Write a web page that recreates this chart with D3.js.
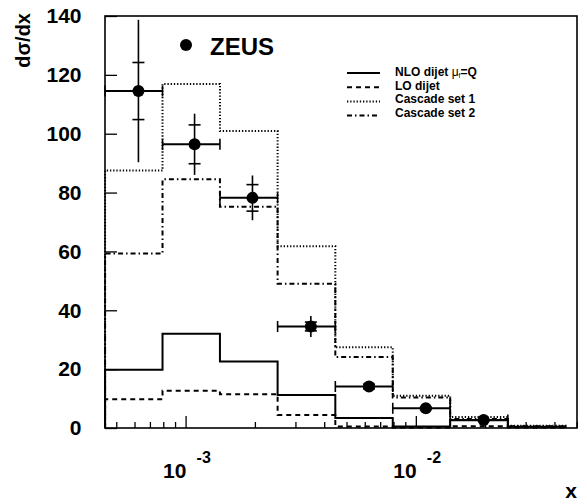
<!DOCTYPE html>
<html>
<head>
<meta charset="utf-8">
<script src="https://cdn.jsdelivr.net/npm/d3@7"></script>
<style>
  html, body { margin: 0; padding: 0; background: #fff; }
  svg { display: block; }
  text { font-family: "Liberation Sans", Arial, Helvetica, sans-serif; font-weight: bold; fill: #000; }
</style>
</head>
<body>
<svg id="chart" width="587" height="504"></svg>
<script>
// ---- data ----
const binEdges = [4.47e-4, 7.94e-4, 1.41e-3, 2.51e-3, 4.47e-3, 7.94e-3, 1.41e-2, 2.51e-2, 4.47e-2];
const nloDijet = [19.8, 32.0, 22.6, 11.2, 3.4, 0.5, 2.6, 0.4];
const loDijet  = [9.8, 12.7, 11.5, 4.4, 0.5, 0.2, 0.6, 0.2];
const cascade1 = [87.5, 116.9, 100.9, 61.8, 27.4, 11.0, 3.7, 0.8];
const cascade2 = [59.3, 84.5, 75.2, 49.0, 24.1, 10.4, 3.1, 0.6];
const zeusX    = [6.24e-4, 1.094e-3, 1.952e-3, 3.50e-3, 6.26e-3, 1.105e-2, 1.97e-2];
const zeusY    = [114.5, 96.4, 78.2, 34.5, 14.1, 6.7, 2.7];
const zeusStat = [9.7, 6.6, 4.5, 1.5, 0.8, 0.4, 0.2];
const zeusTot  = [24.2, 10.4, 7.6, 3.6, 1.5, 0.8, 0.4];
const yTicks   = [0, 20, 40, 60, 80, 100, 120, 140];
const xMajor   = [1e-3, 1e-2];
const xMajorExp = ["-3", "-2"];
const legendLabels = ["NLO dijet μ", "LO dijet", "Cascade set 1", "Cascade set 2"];

// ---- scales ----
const svg = d3.select("#chart");
const L = 105, R = 577, T = 16, B = 428;
const x = d3.scaleLog().domain([Math.pow(10, -3.35), Math.pow(10, -1.3)]).range([L, R]);
const y = d3.scaleLinear().domain([0, 140]).range([B, T]);

// ---- histograms ----
function histPath(vals) {
  const pts = [[x(binEdges[0]), y(0)]];
  vals.forEach((v, i) => {
    pts.push([x(binEdges[i]), y(v)]);
    pts.push([x(binEdges[i + 1]), y(v)]);
  });
  pts.push([x(binEdges[binEdges.length - 1]), y(0)]);
  return d3.line()(pts);
}
const styles = [
  { vals: nloDijet, dash: null, w: 2 },
  { vals: loDijet, dash: "5,4", w: 2 },
  { vals: cascade1, dash: "1.3,1.9", w: 2 },
  { vals: cascade2, dash: "5,3,1.5,3", w: 2 }
];
styles.forEach(s => {
  svg.append("path").attr("d", histPath(s.vals))
    .attr("fill", "none").attr("stroke", "#000")
    .attr("stroke-width", s.w)
    .attr("stroke-dasharray", s.dash);
});

// ---- ZEUS data points ----
const g = svg.append("g");
zeusX.forEach((xv, i) => {
  const cx = x(xv), cy = y(zeusY[i]);
  const x0 = x(binEdges[i]), x1 = x(binEdges[i + 1]);
  g.append("line").attr("x1", x0).attr("x2", x1).attr("y1", cy).attr("y2", cy)
    .attr("stroke", "#000").attr("stroke-width", 2);
  [x0, x1].forEach(xx => g.append("line").attr("x1", xx).attr("x2", xx)
    .attr("y1", cy - 5.5).attr("y2", cy + 5.5).attr("stroke", "#000").attr("stroke-width", 1.6));
  g.append("line").attr("x1", cx).attr("x2", cx)
    .attr("y1", y(zeusY[i] + zeusTot[i])).attr("y2", y(zeusY[i] - zeusTot[i]))
    .attr("stroke", "#000").attr("stroke-width", 1.6);
  [zeusY[i] + zeusStat[i], zeusY[i] - zeusStat[i]].forEach(v =>
    g.append("line").attr("x1", cx - 6).attr("x2", cx + 6).attr("y1", y(v)).attr("y2", y(v))
      .attr("stroke", "#000").attr("stroke-width", 1.6));
  g.append("circle").attr("cx", cx).attr("cy", cy).attr("r", 6).attr("fill", "#000");
});

// ---- frame ----
svg.append("rect").attr("x", L).attr("y", T).attr("width", R - L).attr("height", B - T)
  .attr("fill", "none").attr("stroke", "#000").attr("stroke-width", 1.6);

// ---- y axis ----
const yAxis = d3.axisLeft(y).tickValues(yTicks).tickSize(-12).tickPadding(24);
const ya = svg.append("g").attr("transform", `translate(${L},0)`).call(yAxis);
ya.select(".domain").remove();
ya.selectAll(".tick line").attr("stroke", "#000").attr("stroke-width", 1.3);
ya.selectAll(".tick text").attr("font-size", 21).attr("font-weight", "bold")
  .attr("font-family", "'Liberation Sans', Arial, sans-serif").attr("fill", "#000")
  .attr("x", -23.5);

// ---- x axis ----
const minorTicks = x.ticks().filter(t => !xMajor.some(m => Math.abs(m - t) / m < 1e-6));
const xa = svg.append("g").attr("transform", `translate(0,${B})`);
xa.call(d3.axisBottom(x).tickValues(minorTicks).tickSize(-6).tickFormat(""));
xa.select(".domain").remove();
xa.selectAll(".tick line").attr("stroke", "#000").attr("stroke-width", 1.3);
const xb = svg.append("g").attr("transform", `translate(0,${B})`);
xb.call(d3.axisBottom(x).tickValues(xMajor).tickSize(-12).tickFormat(""));
xb.select(".domain").remove();
xb.selectAll(".tick line").attr("stroke", "#000").attr("stroke-width", 1.3);
xMajor.forEach((m, i) => {
  const tx = x(m);
  svg.append("text").attr("x", tx - 22.5).attr("y", 478).attr("font-size", 21).text("10");
  svg.append("text").attr("x", tx + 11).attr("y", 463).attr("font-size", 16).text(xMajorExp[i]);
});

// ---- axis titles ----
svg.append("text").attr("x", 577).attr("y", 498).attr("text-anchor", "end")
  .attr("font-size", 21).text("x");
svg.append("text").attr("transform", "translate(30,13) rotate(-90)")
  .attr("text-anchor", "end").attr("font-size", 20).text("dσ/dx");

// ---- legend ----
svg.append("circle").attr("cx", 186).attr("cy", 45).attr("r", 6).attr("fill", "#000");
svg.append("text").attr("x", 210).attr("y", 55).attr("font-size", 24).text("ZEUS");

legendLabels.forEach((lab, i) => {
  const ly = 73 + i * 14.2;
  svg.append("line").attr("x1", 347).attr("x2", 380).attr("y1", ly).attr("y2", ly)
    .attr("stroke", "#000").attr("stroke-width", styles[i].w)
    .attr("stroke-dasharray", styles[i].dash);
  const t = svg.append("text").attr("x", 395).attr("y", 76 + i * 13.5).attr("font-size", 12);
  if (i === 0) {
    t.append("tspan").text("NLO dijet ");
    t.append("tspan").attr("font-weight", "normal").text("μ");
    t.append("tspan").attr("font-size", 7).attr("font-weight", "normal").attr("dy", 2).text("f");
    t.append("tspan").attr("dy", -2).text("=Q");
  } else {
    t.text(lab);
  }
});
</script>
</body>
</html>
